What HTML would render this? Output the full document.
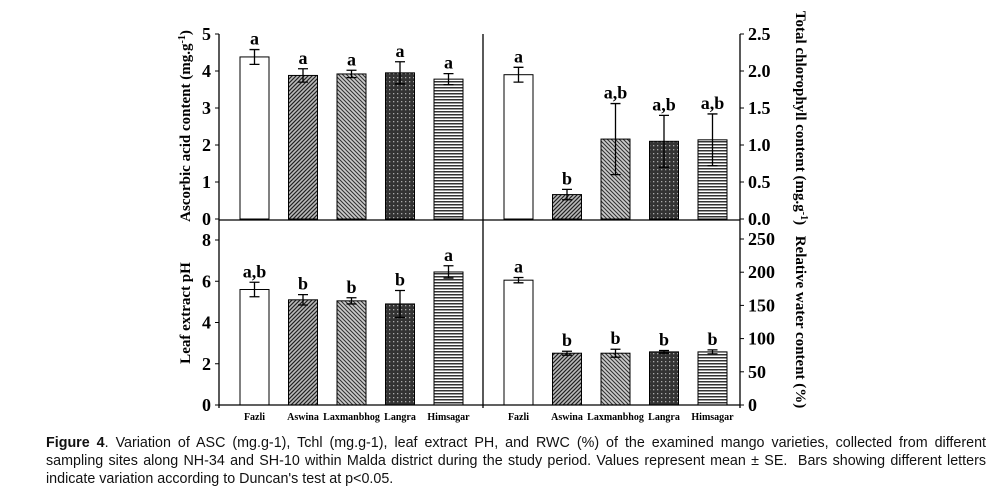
<!DOCTYPE html>
<html><head><meta charset="utf-8"><style>
body{margin:0;background:#fff;width:1001px;height:503px;overflow:hidden;position:relative}
#cap{position:absolute;left:46px;top:434px;width:940px;font-family:"Liberation Sans",sans-serif;font-size:14.3px;line-height:18px;color:#111}
#cap div{white-space:nowrap}
#cap .j{text-align:justify;text-align-last:justify}
</style></head><body>
<svg id="chart" width="1001" height="430" style="position:absolute;left:0;top:0" font-family="Liberation Serif, serif" font-weight="bold">
<defs>
<pattern id="p1" width="4" height="4" patternUnits="userSpaceOnUse"><rect width="4" height="4" fill="#bbb"/><path d="M-1,1 L1,-1 M0,4 L4,0 M3,5 L5,3" stroke="#222" stroke-width="1.2"/></pattern>
<pattern id="p2" width="4" height="4" patternUnits="userSpaceOnUse"><rect width="4" height="4" fill="#ccc"/><path d="M-1,3 L1,5 M0,0 L4,4 M3,-1 L5,1" stroke="#333" stroke-width="1.1"/></pattern>
<pattern id="p3" width="4" height="4" patternUnits="userSpaceOnUse"><rect width="4" height="4" fill="#333"/><rect x="1" y="1" width="1.3" height="1.3" fill="#aaa"/></pattern>
<pattern id="p4" width="4" height="3" patternUnits="userSpaceOnUse"><rect width="4" height="3" fill="#fff"/><rect y="0" width="4" height="1.5" fill="#333"/></pattern>
</defs>
</svg>
<div id="cap">
<div class="j"><b>Figure 4</b>. Variation of ASC (mg.g-1), Tchl (mg.g-1), leaf extract PH, and RWC (%) of the examined mango varieties, collected from different</div>
<div class="j">sampling sites along NH-34 and SH-10 within Malda district during the study period. Values represent mean ± SE.&nbsp; Bars showing different letters</div>
<div>indicate variation according to Duncan's test at p&lt;0.05.</div>
</div>
<script>
const categories=["Fazli","Aswina","Laxmanbhog","Langra","Himsagar"];
const ascValues=[4.38,3.88,3.92,3.95,3.78];
const ascErr=[0.2,0.18,0.1,0.3,0.15];
const ascLetters=["a","a","a","a","a"];
const tchlValues=[1.95,0.33,1.08,1.05,1.07];
const tchlErr=[0.1,0.07,0.48,0.35,0.35];
const tchlLetters=["a","b","a,b","a,b","a,b"];
const phValues=[5.6,5.1,5.05,4.9,6.45];
const phErr=[0.35,0.25,0.15,0.65,0.3];
const phLetters=["a,b","b","b","b","a"];
const rwcValues=[188,78,78,80,80];
const rwcErr=[4,3,6,2,3];
const rwcLetters=["a","b","b","b","b"];
const ascTicks=[0,1,2,3,4,5];
const tchlTicks=["0.0","0.5","1.0","1.5","2.0","2.5"];
const phTicks=[0,2,4,6,8];
const rwcTicks=[0,50,100,150,200,250];

const svg=document.getElementById('chart');
const NS="http://www.w3.org/2000/svg";
function mk(tag,attrs,parent){const e=document.createElementNS(NS,tag);for(const k in attrs)e.setAttribute(k,attrs[k]);(parent||svg).appendChild(e);return e;}
const fills=["#fff","url(#p1)","url(#p2)","url(#p3)","url(#p4)"];
const L=219,M=483,R=740,T=34,MID=220,B=405;

function panel(name,x0,x1,y0pix,ytop,max,vals,errs,letters,ticks,side){
  const g=mk('g',{});
  
  
  const ys=v=>y0pix-(v/max)*(y0pix-ytop);
  const xs=i=>x0+21+i*48.5;
  ticks.forEach(t=>{
    const v=parseFloat(t);const y=ys(v);
    const tl=mk('text',{x:side==='L'?x0-8:x1+8,y:y+6,'font-size':18,'text-anchor':side==='L'?'end':'start'},g);
    tl.textContent=t;
    
    
    mk('line',{x1:side==='L'?x0-4:x1,x2:side==='L'?x0:x1+4,y1:y,y2:y,stroke:'#000'},g);
  });
  vals.forEach((v,i)=>{
    const x=xs(i),y=ys(v);
    const r=mk('rect',{x:x,y:y,width:29,height:y0pix-y,fill:fills[i],stroke:'#000','stroke-width':1},g);
    
    
    const yt=ys(v+errs[i]),yb=ys(v-errs[i]),cx=x+14.5;
    mk('path',{d:`M${cx},${yt}V${yb}M${cx-5},${yt}H${cx+5}M${cx-5},${yb}H${cx+5}`,stroke:'#000','stroke-width':1.3,fill:'none'},g);
    const lt=mk('text',{x:cx,y:yt-5,'font-size':18,'text-anchor':'middle'},g);
    lt.textContent=letters[i];
    
    
  });
}
panel('asc',L,M,219,34,5,ascValues,ascErr,ascLetters,ascTicks,'L');
panel('tchl',M,R,219,34,2.5,tchlValues,tchlErr,tchlLetters,tchlTicks,'R');
panel('ph',L,M,405,240,8,phValues,phErr,phLetters,phTicks,'L');
panel('rwc',M,R,405,239,250,rwcValues,rwcErr,rwcLetters,rwcTicks,'R');
mk('path',{d:`M${L},${T}V${B+3}M${R},${T}V${B+3}M${M},${T}V${B+3}M${L},${MID}H${R}M${L},${B}H${R}`,stroke:'#000','stroke-width':1.3,fill:'none'});
[0,1].forEach(p=>categories.forEach((c,i)=>{
  const t=mk('text',{x:(p?M:L)+35.5+i*48.5,y:420,'font-size':10,'text-anchor':'middle'});
  t.textContent=c;
  
  
}));
function title(txt,x,y,rot,name){
  const t=mk('text',{x:0,y:0,'font-size':15,'text-anchor':'middle',transform:`translate(${x},${y}) rotate(${rot})`});
  t.innerHTML=txt;
  
  
}
title('Ascorbic acid content (mg.g<tspan baseline-shift="super" font-size="10">-1</tspan>)',190,126,-90,'y-axis-title-asc');
title('Leaf extract pH',190,313,-90,'y-axis-title-ph');
title('Total chlorophyll content (mg.g<tspan baseline-shift="super" font-size="10">-1</tspan>)',796,118,90,'y-axis-title-tchl');
title('Relative water content (%)',796,322,90,'y-axis-title-rwc');
</script>
</body></html>
